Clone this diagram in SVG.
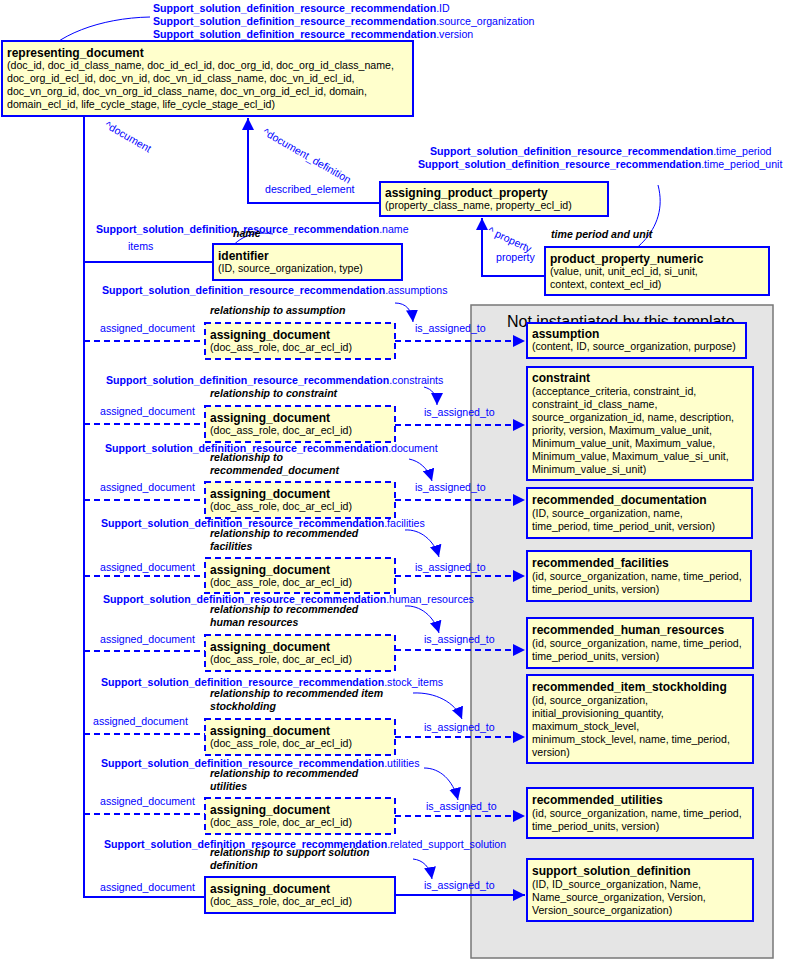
<svg xmlns="http://www.w3.org/2000/svg" width="786" height="960" viewBox="0 0 786 960">
<style>
text{font-family:"Liberation Sans",Arial,sans-serif;font-size:10.6px}
.box{fill:#ffffcc;stroke:#0000ff;stroke-width:2}
.dbox{fill:#ffffcc;stroke:#0000ff;stroke-width:2;stroke-dasharray:6,4}
.t{font-weight:bold;font-size:12px;fill:#000}
.a{fill:#000}
.b{fill:#0000ff}
.bb{fill:#0000ff;font-weight:bold}
.r{font-weight:bold;font-style:italic;fill:#000}
.ln{fill:none;stroke:#0000ff;stroke-width:2}
.dl{fill:none;stroke:#0000ff;stroke-width:2;stroke-dasharray:6,4}
.cv{fill:none;stroke:#0000ff;stroke-width:1}
</style>
<defs>
<marker id="big" viewBox="0 0 10 10" refX="10" refY="5" markerWidth="12" markerHeight="12" orient="auto" markerUnits="userSpaceOnUse"><path d="M0,0L10,5L0,10z" fill="#0000ff"/></marker>
</defs>
<rect x="471" y="305" width="302" height="653" fill="#e5e5e5" stroke="#777" stroke-width="1.5"/>
<text x="507" y="327" style="font-size:16px" fill="#000">Not instantiated by this template</text>
<g id="connectors">
<path class="ln" d="M205,897 H84 V88" marker-end="url(#big)"/>
<path class="ln" d="M84,262 H213"/>
<path class="ln" d="M380,203 H248 V118" marker-end="url(#big)"/>
<path class="ln" d="M545,276 H482 V218" marker-end="url(#big)"/>
<path class="dl" d="M84,341 H205 M84,424 H205 M84,500 H205 M84,576 H205 M84,651 H205 M84,734 H205 M84,814 H205"/>
<path class="dl" d="M395,341 H525" marker-end="url(#big)"/>
<path class="dl" d="M395,425 H525" marker-end="url(#big)"/>
<path class="dl" d="M395,500 H525" marker-end="url(#big)"/>
<path class="dl" d="M395,576 H525" marker-end="url(#big)"/>
<path class="dl" d="M395,650 H525" marker-end="url(#big)"/>
<path class="dl" d="M395,737 H525" marker-end="url(#big)"/>
<path class="dl" d="M395,816 H525" marker-end="url(#big)"/>
<path class="ln" d="M395,895 H525" marker-end="url(#big)"/>
<path class="cv" d="M150,17 C100,18 55,35 36,62" marker-end="url(#big)"/>
<path class="cv" d="M273,234 C250,230 232,240 225,259" marker-end="url(#big)"/>
<path class="cv" d="M658,185 C670,230 630,262 592,268" marker-end="url(#big)"/>
<path class="cv" d="M395,303 C406,303 412,310 413,322" marker-end="url(#big)"/>
<path class="cv" d="M424,387 C432,389 437,395 437,405" marker-end="url(#big)"/>
<path class="cv" d="M409,459 C419,461 428,468 432,481" marker-end="url(#big)"/>
<path class="cv" d="M405,530 C420,529 434,540 439,557" marker-end="url(#big)"/>
<path class="cv" d="M405,606 C420,605 434,616 439,633" marker-end="url(#big)"/>
<path class="cv" d="M413,693 C435,692 455,702 462,719" marker-end="url(#big)"/>
<path class="cv" d="M424,768 C440,768 453,780 458,800" marker-end="url(#big)"/>
<path class="cv" d="M413,859 C423,860 430,867 432,879" marker-end="url(#big)"/>
</g>
<g id="labels">
<text x="153" y="12"><tspan class="bb">Support_solution_definition_resource_recommendation</tspan><tspan class="b">.ID</tspan></text>
<text x="153" y="25"><tspan class="bb">Support_solution_definition_resource_recommendation</tspan><tspan class="b">.source_organization</tspan></text>
<text x="153" y="38"><tspan class="bb">Support_solution_definition_resource_recommendation</tspan><tspan class="b">.version</tspan></text>
<text x="430" y="155"><tspan class="bb">Support_solution_definition_resource_recommendation</tspan><tspan class="b">.time_period</tspan></text>
<text x="418" y="168"><tspan class="bb">Support_solution_definition_resource_recommendation</tspan><tspan class="b">.time_period_unit</tspan></text>
<text x="96" y="233"><tspan class="bb">Support_solution_definition_resource_recommendation</tspan><tspan class="b">.name</tspan></text>
<text x="102" y="294"><tspan class="bb">Support_solution_definition_resource_recommendation</tspan><tspan class="b">.assumptions</tspan></text>
<text x="106" y="384"><tspan class="bb">Support_solution_definition_resource_recommendation</tspan><tspan class="b">.constraints</tspan></text>
<text x="105" y="452"><tspan class="bb">Support_solution_definition_resource_recommendation</tspan><tspan class="b">.document</tspan></text>
<text x="101" y="527"><tspan class="bb">Support_solution_definition_resource_recommendation</tspan><tspan class="b">.facilities</tspan></text>
<text x="103" y="603"><tspan class="bb">Support_solution_definition_resource_recommendation</tspan><tspan class="b">.human_resources</tspan></text>
<text x="101" y="686"><tspan class="bb">Support_solution_definition_resource_recommendation</tspan><tspan class="b">.stock_items</tspan></text>
<text x="101" y="767"><tspan class="bb">Support_solution_definition_resource_recommendation</tspan><tspan class="b">.utilities</tspan></text>
<text x="104" y="848"><tspan class="bb">Support_solution_definition_resource_recommendation</tspan><tspan class="b">.related_support_solution</tspan></text>
<text class="r" x="233" y="237">name</text>
<text class="r" x="551" y="238">time period and unit</text>
<text class="r" x="210" y="314">relationship to assumption</text>
<text class="r" x="210" y="397">relationship to constraint</text>
<text class="r" x="210" y="461">relationship to</text>
<text class="r" x="210" y="474">recommended_document</text>
<text class="r" x="210" y="537">relationship to recommended</text>
<text class="r" x="210" y="550">facilities</text>
<text class="r" x="210" y="613">relationship to recommended</text>
<text class="r" x="210" y="626">human resources</text>
<text class="r" x="210" y="697">relationship to recommended item</text>
<text class="r" x="210" y="710">stockholding</text>
<text class="r" x="210" y="777">relationship to recommended</text>
<text class="r" x="210" y="790">utilities</text>
<text class="r" x="210" y="856">relationship to support solution</text>
<text class="r" x="210" y="869">definition</text>
<text class="b" transform="translate(104,127) rotate(30)">^document</text>
<text class="b" transform="translate(262,134) rotate(30)">^document_definition</text>
<text class="b" x="265" y="193">described_element</text>
<text class="b" x="128" y="250">items</text>
<text class="b" transform="translate(487,233) rotate(25)">^ property</text>
<text class="b" x="496" y="261">property</text>
<text class="b" x="100" y="332">assigned_document</text>
<text class="b" x="100" y="415">assigned_document</text>
<text class="b" x="100" y="491">assigned_document</text>
<text class="b" x="100" y="571">assigned_document</text>
<text class="b" x="100" y="643">assigned_document</text>
<text class="b" x="93" y="725">assigned_document</text>
<text class="b" x="100" y="805">assigned_document</text>
<text class="b" x="100" y="891">assigned_document</text>
<text class="b" x="415" y="332">is_assigned_to</text>
<text class="b" x="424" y="416">is_assigned_to</text>
<text class="b" x="415" y="491">is_assigned_to</text>
<text class="b" x="415" y="571">is_assigned_to</text>
<text class="b" x="424" y="643">is_assigned_to</text>
<text class="b" x="424" y="731">is_assigned_to</text>
<text class="b" x="426" y="810">is_assigned_to</text>
<text class="b" x="424" y="889">is_assigned_to</text>
</g>
<g id="representing_document"><rect class="box" x="2" y="41" width="411" height="75"/>
<text class="t" x="7" y="57">representing_document</text>
<text class="a" x="7" y="69">(doc_id, doc_id_class_name, doc_id_ecl_id, doc_org_id, doc_org_id_class_name,</text>
<text class="a" x="7" y="82">doc_org_id_ecl_id, doc_vn_id, doc_vn_id_class_name, doc_vn_id_ecl_id,</text>
<text class="a" x="7" y="95">doc_vn_org_id, doc_vn_org_id_class_name, doc_vn_org_id_ecl_id, domain,</text>
<text class="a" x="7" y="108">domain_ecl_id, life_cycle_stage, life_cycle_stage_ecl_id)</text></g>
<g id="assigning_product_property"><rect class="box" x="380" y="182" width="228" height="34"/>
<text class="t" x="385" y="197">assigning_product_property</text>
<text class="a" x="385" y="209">(property_class_name, property_ecl_id)</text></g>
<g id="identifier"><rect class="box" x="213" y="244" width="189" height="36"/>
<text class="t" x="218" y="260">identifier</text>
<text class="a" x="218" y="272">(ID, source_organization, type)</text></g>
<g id="product_property_numeric"><rect class="box" x="545" y="247" width="224" height="48"/>
<text class="t" x="550" y="263">product_property_numeric</text>
<text class="a" x="550" y="275">(value, unit, unit_ecl_id, si_unit,</text>
<text class="a" x="550" y="288">context, context_ecl_id)</text></g>
<g id="ad1"><rect class="dbox" x="205" y="323" width="190" height="36"/><text class="t" x="210" y="339">assigning_document</text><text class="a" x="210" y="351">(doc_ass_role, doc_ar_ecl_id)</text></g>
<g id="ad2"><rect class="dbox" x="205" y="406" width="190" height="36"/><text class="t" x="210" y="422">assigning_document</text><text class="a" x="210" y="434">(doc_ass_role, doc_ar_ecl_id)</text></g>
<g id="ad3"><rect class="dbox" x="205" y="482" width="190" height="36"/><text class="t" x="210" y="498">assigning_document</text><text class="a" x="210" y="510">(doc_ass_role, doc_ar_ecl_id)</text></g>
<g id="ad4"><rect class="dbox" x="205" y="558" width="190" height="35"/><text class="t" x="210" y="574">assigning_document</text><text class="a" x="210" y="586">(doc_ass_role, doc_ar_ecl_id)</text></g>
<g id="ad5"><rect class="dbox" x="205" y="635" width="190" height="36"/><text class="t" x="210" y="651">assigning_document</text><text class="a" x="210" y="663">(doc_ass_role, doc_ar_ecl_id)</text></g>
<g id="ad6"><rect class="dbox" x="205" y="719" width="190" height="36"/><text class="t" x="210" y="735">assigning_document</text><text class="a" x="210" y="747">(doc_ass_role, doc_ar_ecl_id)</text></g>
<g id="ad7"><rect class="dbox" x="205" y="798" width="190" height="36"/><text class="t" x="210" y="814">assigning_document</text><text class="a" x="210" y="826">(doc_ass_role, doc_ar_ecl_id)</text></g>
<g id="ad8"><rect class="box" x="205" y="877" width="190" height="36"/><text class="t" x="210" y="893">assigning_document</text><text class="a" x="210" y="905">(doc_ass_role, doc_ar_ecl_id)</text></g>
<g id="assumption"><rect class="box" x="527" y="323" width="219" height="35"/><text class="t" x="532" y="338">assumption</text><text class="a" x="532" y="350">(content, ID, source_organization, purpose)</text></g>
<g id="constraint"><rect class="box" x="527" y="367" width="226" height="113"/><text class="t" x="532" y="382">constraint</text>
<text class="a" x="532" y="395">(acceptance_criteria, constraint_id,</text>
<text class="a" x="532" y="408">constraint_id_class_name,</text>
<text class="a" x="532" y="421">source_organization_id, name, description,</text>
<text class="a" x="532" y="434">priority, version, Maximum_value_unit,</text>
<text class="a" x="532" y="447">Minimum_value_unit, Maximum_value,</text>
<text class="a" x="532" y="460">Minimum_value, Maximum_value_si_unit,</text>
<text class="a" x="532" y="473">Minimum_value_si_unit)</text></g>
<g id="recommended_documentation"><rect class="box" x="527" y="488" width="225" height="50"/><text class="t" x="532" y="504">recommended_documentation</text>
<text class="a" x="532" y="517">(ID, source_organization, name,</text><text class="a" x="532" y="530">time_period, time_period_unit, version)</text></g>
<g id="recommended_facilities"><rect class="box" x="527" y="551" width="224" height="50"/><text class="t" x="532" y="567">recommended_facilities</text>
<text class="a" x="532" y="580">(id, source_organization, name, time_period,</text><text class="a" x="532" y="593">time_period_units, version)</text></g>
<g id="recommended_human_resources"><rect class="box" x="527" y="618" width="226" height="50"/><text class="t" x="532" y="634">recommended_human_resources</text>
<text class="a" x="532" y="647">(id, source_organization, name, time_period,</text><text class="a" x="532" y="660">time_period_units, version)</text></g>
<g id="recommended_item_stockholding"><rect class="box" x="527" y="675" width="226" height="88"/><text class="t" x="532" y="691">recommended_item_stockholding</text>
<text class="a" x="532" y="704">(id, source_organization,</text>
<text class="a" x="532" y="717">initial_provisioning_quantity,</text>
<text class="a" x="532" y="730">maximum_stock_level,</text>
<text class="a" x="532" y="743">minimum_stock_level, name, time_period,</text>
<text class="a" x="532" y="756">version)</text></g>
<g id="recommended_utilities"><rect class="box" x="527" y="788" width="226" height="50"/><text class="t" x="532" y="804">recommended_utilities</text>
<text class="a" x="532" y="817">(id, source_organization, name, time_period,</text><text class="a" x="532" y="830">time_period_units, version)</text></g>
<g id="support_solution_definition"><rect class="box" x="527" y="859" width="226" height="62"/><text class="t" x="532" y="875">support_solution_definition</text>
<text class="a" x="532" y="888">(ID, ID_source_organization, Name,</text>
<text class="a" x="532" y="901">Name_source_organization, Version,</text>
<text class="a" x="532" y="914">Version_source_organization)</text></g>
</svg>
